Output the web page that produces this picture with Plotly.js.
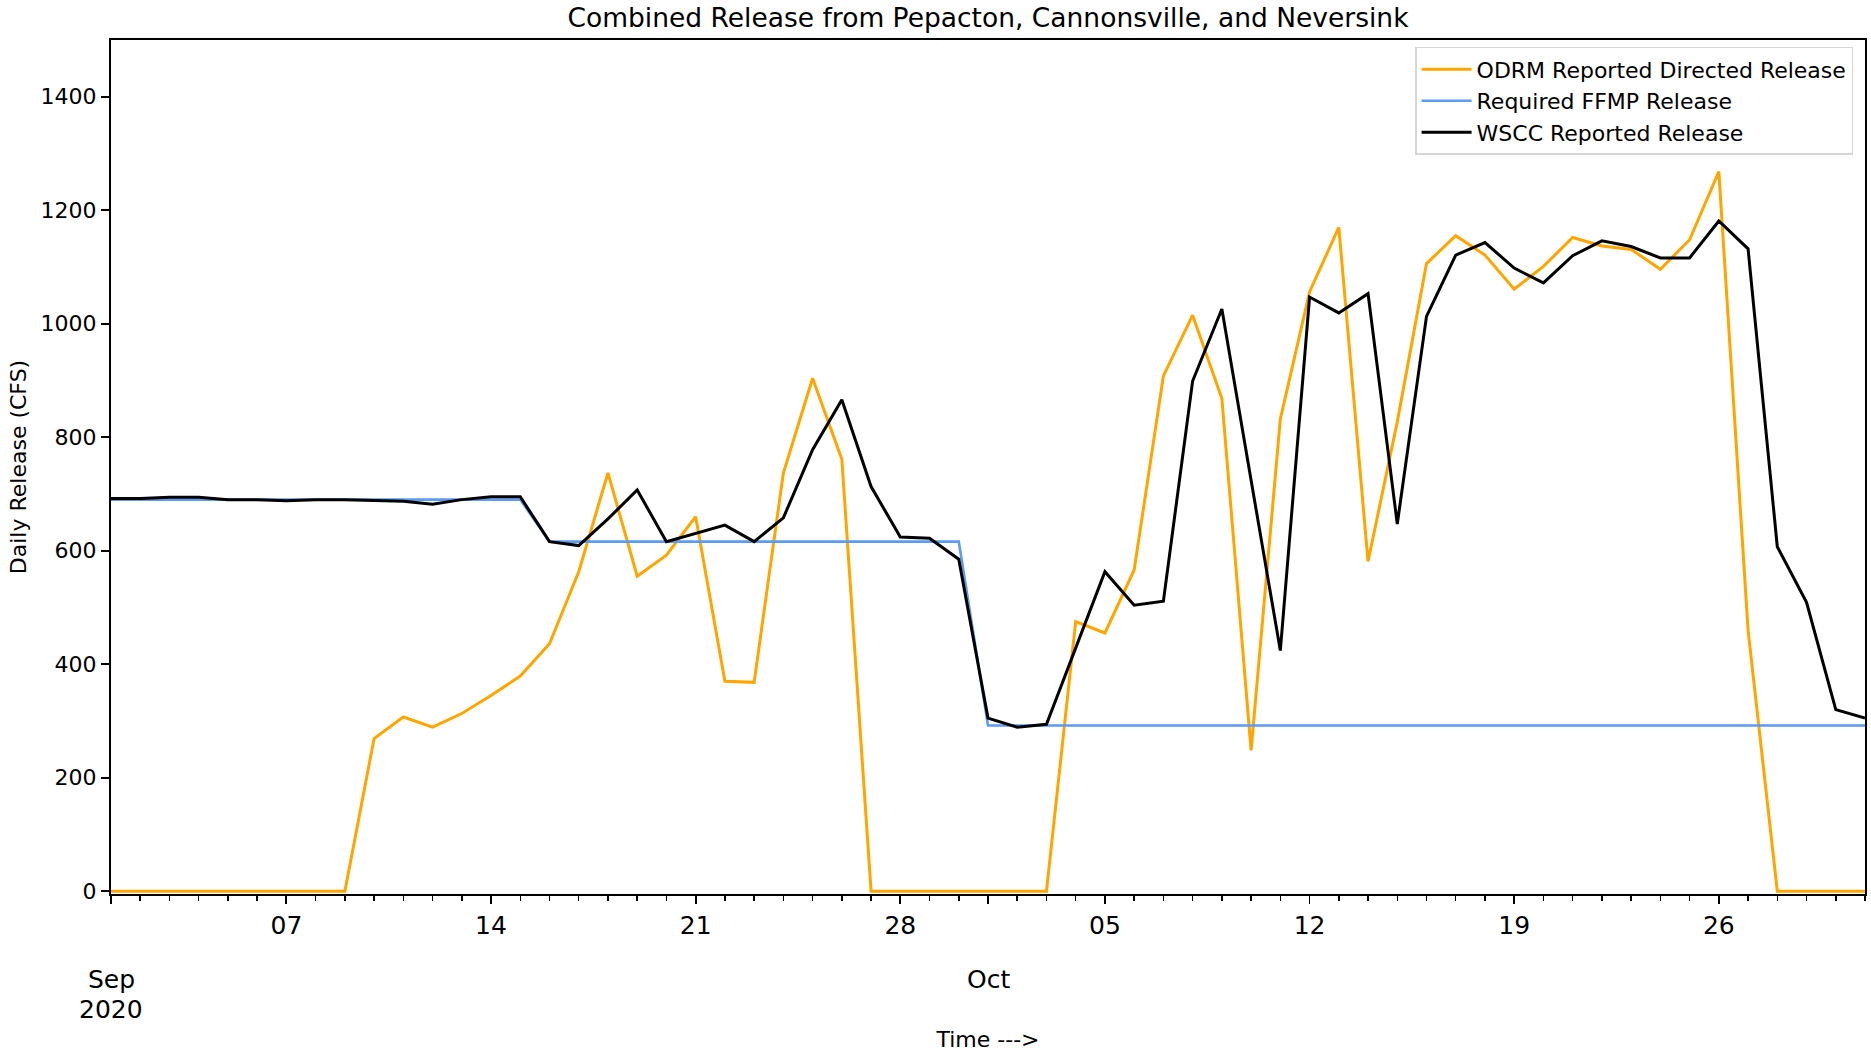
<!DOCTYPE html>
<html>
<head>
<meta charset="utf-8">
<script src="https://cdn.plot.ly/plotly-3.0.1.min.js"></script>
<style>html,body{margin:0;padding:0;background:#fff;}#chart{width:1871px;height:1052px;}</style>
</head>
<body>
<div id="chart"></div>
<script>
const dates = [
  '2020-09-01','2020-09-02','2020-09-03','2020-09-04','2020-09-05','2020-09-06','2020-09-07','2020-09-08','2020-09-09','2020-09-10',
  '2020-09-11','2020-09-12','2020-09-13','2020-09-14','2020-09-15','2020-09-16','2020-09-17','2020-09-18','2020-09-19','2020-09-20',
  '2020-09-21','2020-09-22','2020-09-23','2020-09-24','2020-09-25','2020-09-26','2020-09-27','2020-09-28','2020-09-29','2020-09-30',
  '2020-10-01','2020-10-02','2020-10-03','2020-10-04','2020-10-05','2020-10-06','2020-10-07','2020-10-08','2020-10-09','2020-10-10',
  '2020-10-11','2020-10-12','2020-10-13','2020-10-14','2020-10-15','2020-10-16','2020-10-17','2020-10-18','2020-10-19','2020-10-20',
  '2020-10-21','2020-10-22','2020-10-23','2020-10-24','2020-10-25','2020-10-26','2020-10-27','2020-10-28','2020-10-29','2020-10-30',
  '2020-10-31'
];

const odrmDirected = [
  0, 0, 0, 0, 0, 0, 0, 0, 0, 269,
  307, 289, 313, 345, 379, 436, 563, 737, 555, 592,
  660, 370, 368, 737, 904, 761, 0, 0, 0, 0,
  0, 0, 0, 475, 455, 566, 908, 1015, 868, 248,
  832, 1056, 1170, 581, 827, 1106, 1155, 1121, 1061, 1101,
  1152, 1137, 1131, 1096, 1148, 1268, 460, 0, 0, 0,
  0
];

const ffmpRequired = [
  690, 690, 690, 690, 690, 690, 690, 690, 690, 690,
  690, 690, 690, 690, 690, 616, 616, 616, 616, 616,
  616, 616, 616, 616, 616, 616, 616, 616, 616, 616,
  292, 292, 292, 292, 292, 292, 292, 292, 292, 292,
  292, 292, 292, 292, 292, 292, 292, 292, 292, 292,
  292, 292, 292, 292, 292, 292, 292, 292, 292, 292,
  292
];

const wsccReported = [
  692, 692, 694, 694, 690, 690, 688, 690, 690, 689,
  687, 682, 690, 695, 695, 616, 609, 656, 707, 616,
  631, 645, 616, 658, 778, 866, 713, 624, 622, 585,
  305, 289, 294, 428, 563, 504, 511, 899, 1026, 724,
  424, 1047, 1019, 1053, 647, 1013, 1121, 1143, 1098, 1072,
  1120, 1146, 1136, 1116, 1116, 1181, 1132, 607, 509, 320,
  305
];

const seriesNames = ['ODRM Reported Directed Release', 'Required FFMP Release', 'WSCC Reported Release'];
const tickDates = ['2020-09-01','2020-09-07','2020-09-14','2020-09-21','2020-09-28','2020-10-01','2020-10-05','2020-10-12','2020-10-19','2020-10-26'];
const tickLabels = ['', '07', '14', '21', '28', '', '05', '12', '19', '26'];
const yTicks = [0, 200, 400, 600, 800, 1000, 1200, 1400];
const monthLabels = [
  {date: '2020-09-01', lines: ['Sep', '2020']},
  {date: '2020-10-01', lines: ['Oct']}
];

const FONT = 'DejaVu Sans, sans-serif';

const traces = [
  {x: dates, y: odrmDirected, name: seriesNames[0], mode: 'lines', legendgroup: 'a',
   line: {color: '#FFA500', width: 3}},
  {x: dates, y: ffmpRequired, name: seriesNames[1], mode: 'lines', legendgroup: 'b',
   line: {color: '#5B9BF0', width: 2.6}},
  {x: dates, y: wsccReported, name: seriesNames[2], mode: 'lines', legendgroup: 'c',
   line: {color: '#000000', width: 3}}
];

const annotations = [];
monthLabels.forEach(m => {
  m.lines.forEach((t, i) => {
    annotations.push({
      x: m.date, xref: 'x', yref: 'paper',
      y: -(86 + i * 30) / 854, yanchor: 'middle', xanchor: 'center',
      text: t, showarrow: false,
      font: {family: FONT, size: 25, color: '#000'}
    });
  });
});

const layout = {
  width: 1871, height: 1052,
  margin: {l: 111, r: 6, t: 40, b: 158, pad: 0},
  paper_bgcolor: '#ffffff', plot_bgcolor: '#ffffff',
  font: {family: FONT, color: '#000', size: 22},
  title: {
    text: 'Combined Release from Pepacton, Cannonsville, and Neversink',
    font: {family: FONT, size: 26.5, color: '#000'},
    x: 0.5, xanchor: 'center', xref: 'paper',
    y: 1 - 18 / 1052, yref: 'container', yanchor: 'middle'
  },
  xaxis: {
    type: 'date',
    range: ['2020-09-01', '2020-10-31'],
    tickmode: 'array', tickvals: tickDates, ticktext: tickLabels,
    ticks: 'outside', ticklen: 8, tickwidth: 1.8, tickcolor: '#000',
    tickfont: {family: FONT, size: 25, color: '#000'},
    minor: {tickmode: 'linear', tick0: '2020-09-01', dtick: 86400000, ticks: 'outside', ticklen: 4.5, tickwidth: 1.5, tickcolor: '#000', showgrid: false},
    showgrid: false, zeroline: false,
    showline: true, linecolor: '#000', linewidth: 2, mirror: true,
    title: {text: 'Time --->', font: {family: FONT, size: 22, color: '#000'}, standoff: 104},
    automargin: false
  },
  yaxis: {
    range: [-5, 1500],
    tickmode: 'array', tickvals: yTicks,
    ticks: 'outside', ticklen: 8, tickwidth: 1.8, tickcolor: '#000',
    tickfont: {family: FONT, size: 22, color: '#000'},
    showgrid: false, zeroline: false,
    showline: true, linecolor: '#000', linewidth: 2, mirror: true,
    title: {text: 'Daily Release (CFS)', font: {family: FONT, size: 22, color: '#000'}, standoff: 8},
    automargin: false
  },
  legend: {
    x: 0.9932, y: 0.992, xanchor: 'right', yanchor: 'top',
    bgcolor: 'rgba(255,255,255,0.8)', bordercolor: '#d6d6d6', borderwidth: 1.5,
    font: {family: FONT, size: 22, color: '#000'},
    traceorder: 'grouped', tracegroupgap: 0,
    itemwidth: 50
  },
  showlegend: true,
  annotations: annotations
};

Plotly.newPlot('chart', traces, layout, {displayModeBar: false, staticPlot: true});
</script>
</body>
</html>
